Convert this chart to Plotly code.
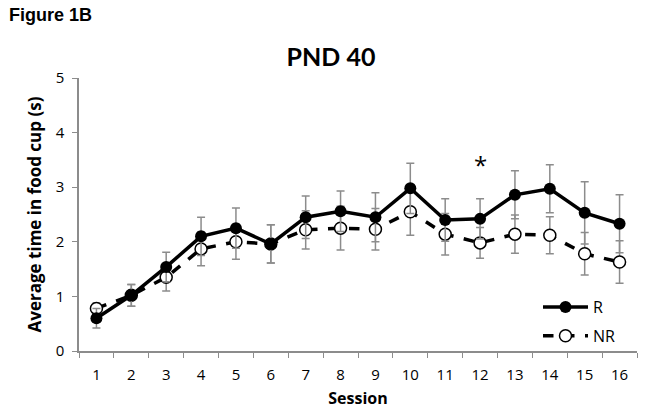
import plotly.graph_objects as go

sessions = [str(i) for i in range(1, 17)]
r_mean = [0.60, 1.02, 1.54, 2.10, 2.25, 1.96, 2.45, 2.56, 2.45, 2.98, 2.40, 2.42, 2.86, 2.97, 2.53, 2.33]
r_err = [0.18, 0.20, 0.27, 0.35, 0.37, 0.35, 0.39, 0.37, 0.45, 0.46, 0.39, 0.37, 0.44, 0.44, 0.57, 0.53]
nr_mean = [0.78, 1.02, 1.35, 1.87, 2.00, 1.96, 2.22, 2.25, 2.23, 2.55, 2.14, 1.98, 2.14, 2.12, 1.78, 1.63]
nr_err = [0.10, 0.20, 0.25, 0.31, 0.32, 0.35, 0.35, 0.40, 0.38, 0.43, 0.38, 0.28, 0.35, 0.34, 0.39, 0.39]

fig = go.Figure()
fig.add_trace(go.Scatter(
    x=sessions, y=nr_mean, name="NR", mode="lines+markers", legendgroup="nr", legendrank=2,
    line=dict(color="black", width=3.5, dash="dash"),
    marker=dict(symbol="circle", size=12, color="white", line=dict(color="black", width=1.5)),
    error_y=dict(type="data", array=nr_err, color="#8c8c8c", thickness=1.5, width=4),
))
fig.add_trace(go.Scatter(
    x=sessions, y=r_mean, name="R", mode="lines+markers", legendgroup="r", legendrank=1,
    line=dict(color="black", width=3.5),
    marker=dict(symbol="circle", size=12, color="black"),
    error_y=dict(type="data", array=r_err, color="#8c8c8c", thickness=1.5, width=4),
))

fig.add_annotation(x=11, y=3.42, text="*", showarrow=False,
                   font=dict(family="Open Sans", size=24, color="black"), yanchor="middle")
fig.add_annotation(x=(7 - 79) / 558, y=1 + (78 - 15.5) / 273, xref="paper", yref="paper",
                   xanchor="left", yanchor="middle",
                   text="<b>Figure 1B</b>", showarrow=False,
                   font=dict(family="Liberation Sans", size=18, color="black"))

fig.update_layout(
    width=645, height=413,
    margin=dict(l=79, r=8, t=78, b=62, autoexpand=False),
    paper_bgcolor="white", plot_bgcolor="white",
    title=dict(text="<b>PND 40</b>", x=331 / 645, xanchor="center", y=1 - 57.5 / 413, yanchor="middle",
               font=dict(family="Lato", size=25, color="black")),
    showlegend=True,
    legend=dict(x=(538 - 79) / 558, y=(351 - 290) / 273, xanchor="left", yanchor="top",
                traceorder="grouped", tracegroupgap=5,
                font=dict(family="Open Sans", size=16, color="black"),
                bgcolor="rgba(0,0,0,0)", itemwidth=45),
    font=dict(family="Open Sans", size=15, color="black"),
)
fig.update_xaxes(
    type="category", range=[-0.5, 15.5], tickson="boundaries", ticks="outside", ticklen=5,
    tickcolor="#8c8c8c", ticklabelstandoff=9,
    showline=True, linecolor="#8c8c8c", linewidth=1.5, showgrid=False, automargin=False,
    title=dict(text="<b>Session</b>", font=dict(family="Open Sans", size=16), standoff=10),
    tickfont=dict(family="Open Sans", size=15),
)
fig.update_yaxes(
    range=[0, 5], dtick=1, ticks="outside", ticklen=5, tickcolor="#8c8c8c", ticklabelstandoff=5,
    showline=True, linecolor="#8c8c8c", linewidth=1.5, showgrid=False, zeroline=False, automargin=False,
    title=dict(text="<b>Average time in food cup (s)</b>", font=dict(family="Open Sans", size=17), standoff=10),
    tickfont=dict(family="Open Sans", size=15),
)

fig.write_html("out.html", config={"displayModeBar": False},
               post_script="document.body.style.margin='0';document.body.style.overflow='hidden';")
